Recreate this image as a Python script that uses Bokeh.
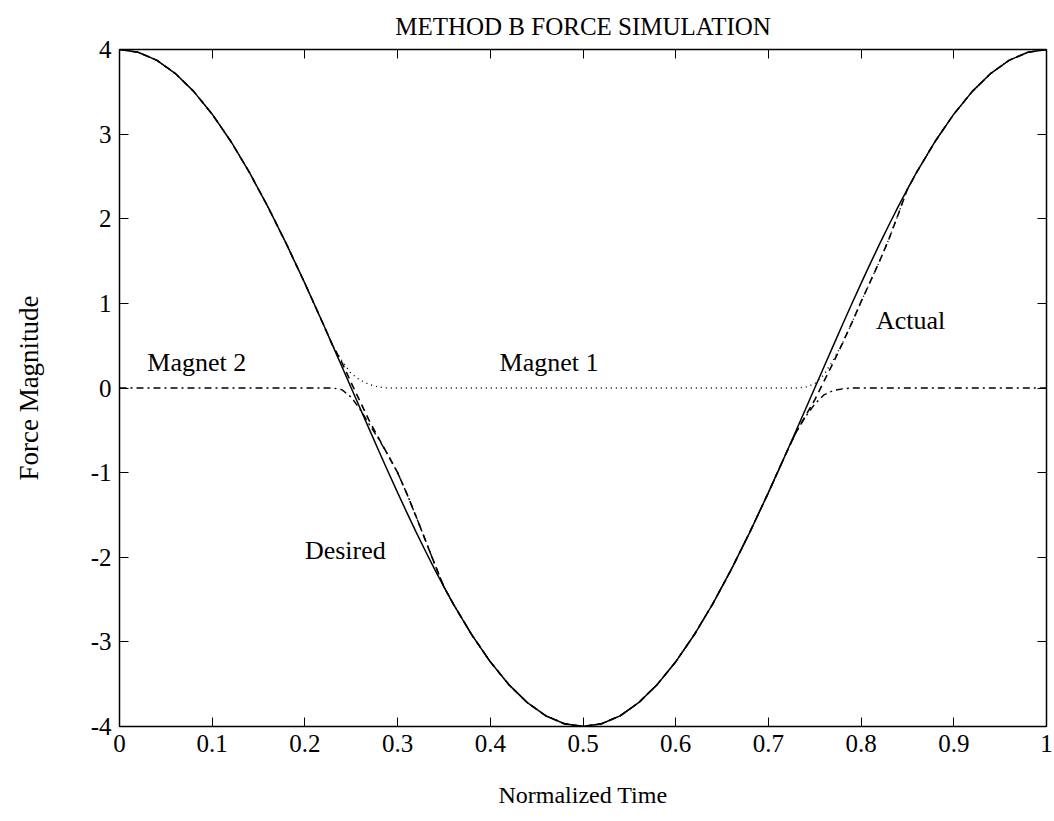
from bokeh.plotting import figure
from bokeh.models import FixedTicker, CustomJSTickFormatter, LinearAxis, Range1d, ColumnDataSource
from bokeh.core.properties import value
from bokeh.embed import file_html
from bokeh.resources import INLINE

# ---- data ----
t = [0.00, 0.02, 0.04, 0.06, 0.08, 0.10, 0.12, 0.14, 0.16, 0.18, 0.20, 0.22,
     0.23, 0.24, 0.25, 0.26, 0.27, 0.28, 0.29, 0.30, 0.31, 0.32, 0.33, 0.34, 0.35,
     0.36, 0.38, 0.40, 0.42, 0.44, 0.46, 0.48, 0.50, 0.52, 0.54, 0.56, 0.58, 0.60,
     0.62, 0.64, 0.66, 0.68, 0.70, 0.72,
     0.73, 0.74, 0.75, 0.76, 0.77, 0.78, 0.79, 0.80, 0.81, 0.82, 0.83, 0.84, 0.85,
     0.86, 0.88, 0.90, 0.92, 0.94, 0.96, 0.98, 1.00]

desired = [4.000, 3.968, 3.874, 3.719, 3.505, 3.236, 2.916, 2.550, 2.143, 1.703, 1.236, 0.750,
           0.501, 0.251, 0.000, -0.251, -0.501, -0.750, -0.996, -1.236, -1.472, -1.703, -1.926, -2.143, -2.351,
           -2.550, -2.916, -3.236, -3.505, -3.719, -3.874, -3.968, -4.000, -3.968, -3.874, -3.719, -3.505, -3.236,
           -2.916, -2.550, -2.143, -1.703, -1.236, -0.750,
           -0.501, -0.251, 0.000, 0.251, 0.501, 0.750, 0.996, 1.236, 1.472, 1.703, 1.926, 2.143, 2.351,
           2.550, 2.916, 3.236, 3.505, 3.719, 3.874, 3.968, 4.000]

actual = [4.000, 3.968, 3.874, 3.719, 3.505, 3.236, 2.916, 2.550, 2.143, 1.703, 1.236, 0.750,
          0.50, 0.30, 0.06, -0.17, -0.40, -0.60, -0.80, -1.00, -1.25, -1.52, -1.80, -2.08, -2.351,
          -2.550, -2.916, -3.236, -3.505, -3.719, -3.874, -3.968, -4.000, -3.968, -3.874, -3.719, -3.505, -3.236,
          -2.916, -2.550, -2.143, -1.703, -1.236, -0.750,
          -0.52, -0.33, -0.14, 0.08, 0.30, 0.53, 0.77, 1.02, 1.26, 1.50, 1.76, 2.05, 2.351,
          2.550, 2.916, 3.236, 3.505, 3.719, 3.874, 3.968, 4.000]

magnet1 = [4.000, 3.968, 3.874, 3.719, 3.505, 3.236, 2.916, 2.550, 2.143, 1.703, 1.236, 0.750,
           0.50, 0.32, 0.17, 0.09, 0.04, 0.01, 0.0, 0.0, 0.0, 0.0, 0.0, 0.0, 0.0,
           0.0, 0.0, 0.0, 0.0, 0.0, 0.0, 0.0, 0.0, 0.0, 0.0, 0.0, 0.0, 0.0,
           0.0, 0.0, 0.0, 0.0, 0.0, 0.0,
           0.0, 0.01, 0.05, 0.16, 0.33, 0.53, 0.77, 1.02, 1.26, 1.50, 1.76, 2.05, 2.351,
           2.550, 2.916, 3.236, 3.505, 3.719, 3.874, 3.968, 4.000]

magnet2 = [0.0, 0.0, 0.0, 0.0, 0.0, 0.0, 0.0, 0.0, 0.0, 0.0, 0.0, 0.0,
           0.0, -0.02, -0.11, -0.26, -0.44, -0.61, -0.80, -1.00, -1.25, -1.52, -1.80, -2.08, -2.351,
           -2.550, -2.916, -3.236, -3.505, -3.719, -3.874, -3.968, -4.000, -3.968, -3.874, -3.719, -3.505, -3.236,
           -2.916, -2.550, -2.143, -1.703, -1.236, -0.750,
           -0.52, -0.34, -0.19, -0.08, -0.03, -0.01, 0.0, 0.0, 0.0, 0.0, 0.0, 0.0, 0.0,
           0.0, 0.0, 0.0, 0.0, 0.0, 0.0, 0.0, 0.0]

x_ticks = [0, 0.1, 0.2, 0.3, 0.4, 0.5, 0.6, 0.7, 0.8, 0.9, 1]
y_ticks = [-4, -3, -2, -1, 0, 1, 2, 3, 4]

label_text = ["Magnet 2", "Magnet 1", "Actual", "Desired"]
label_x = [0.03, 0.41, 0.816, 0.20]
label_y = [0.30, 0.30, 0.80, -1.92]

SERIF = "Liberation Serif"

p = figure(width=1054, height=821, output_backend="svg", toolbar_location=None,
           x_range=Range1d(0, 1), y_range=Range1d(-4, 4),
           min_border_left=119, min_border_right=8, min_border_top=49, min_border_bottom=95,
           title="METHOD B FORCE SIMULATION")
p.background_fill_color = "white"
p.border_fill_color = "white"
p.outline_line_color = "black"
p.outline_line_width = 1.5
p.xgrid.visible = False
p.ygrid.visible = False

p.title.text_font = SERIF
p.title.text_font_size = "25px"
p.title.text_font_style = "normal"
p.title.align = "center"
p.title.text_color = "black"
p.title.standoff = 20

xfmt = CustomJSTickFormatter(code="return tick.toFixed(1).replace(/\\.0$/, '');")
yfmt = CustomJSTickFormatter(code="return String(Math.round(tick));")

for ax in p.xaxis:
    ax.ticker = FixedTicker(ticks=x_ticks)
    ax.formatter = xfmt
    ax.axis_label = "Normalized Time"
    ax.axis_label_standoff = 27
    ax.axis_label_text_font_size = "24px"
for ax in p.yaxis:
    ax.ticker = FixedTicker(ticks=y_ticks)
    ax.formatter = yfmt
    ax.axis_label = "Force Magnitude"
    ax.axis_label_standoff = 44
    ax.axis_label_text_font_size = "27px"
for ax in p.xaxis + p.yaxis:
    ax.major_label_text_font = SERIF
    ax.major_label_text_font_size = "25px"
    ax.major_label_text_color = "black"
    ax.axis_label_text_font = SERIF
    ax.axis_label_text_font_style = "normal"
    ax.axis_label_text_color = "black"
    ax.axis_line_color = "black"
    ax.major_tick_line_color = "black"
    ax.major_tick_in = 9
    ax.major_tick_out = 0
    ax.minor_tick_line_color = None
    ax.major_label_standoff = 8

empty = CustomJSTickFormatter(code="return '';")
top = LinearAxis(ticker=FixedTicker(ticks=x_ticks), formatter=empty,
                 major_tick_in=9, major_tick_out=0, minor_tick_line_color=None,
                 major_label_standoff=0, major_label_text_font_size="1px")
right = LinearAxis(ticker=FixedTicker(ticks=y_ticks), formatter=empty,
                   major_tick_in=9, major_tick_out=0, minor_tick_line_color=None,
                   major_label_standoff=0, major_label_text_font_size="1px")
p.add_layout(top, "above")
p.add_layout(right, "right")

src = ColumnDataSource(dict(t=t, desired=desired, actual=actual, m1=magnet1, m2=magnet2))
p.line("t", "desired", source=src, line_color="black", line_width=1.5)
p.line("t", "actual", source=src, line_color="black", line_width=1.6, line_dash="7 5")
p.line("t", "m1", source=src, line_color="black", line_width=1.4, line_dash="1 4")
p.line("t", "m2", source=src, line_color="black", line_width=1.4, line_dash="7 4 2 4")

lsrc = ColumnDataSource(dict(x=label_x, y=label_y, text=label_text))
p.text("x", "y", text="text", source=lsrc, text_font=value(SERIF), text_font_size="26px",
       text_color="black", text_baseline="alphabetic", text_align="left")

open("out.html", "w").write(file_html(p, INLINE))
